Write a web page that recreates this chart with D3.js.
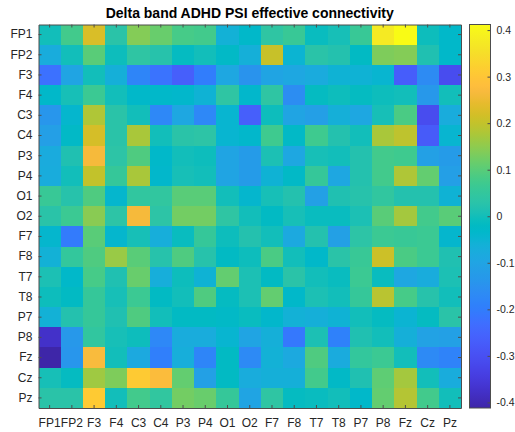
<!DOCTYPE html>
<html>
<head>
<meta charset="utf-8">
<script src="https://cdn.jsdelivr.net/npm/d3@7"></script>
<style>
  html, body { margin: 0; padding: 0; background: #ffffff; }
  svg { display: block; font-family: "Liberation Sans", Arial, Helvetica, sans-serif; }
</style>
</head>
<body>
<svg id="chart" width="515" height="432"></svg>
<script>
// EEG channels, in matrix order (rows = source, columns = target)
const channels = ["FP1","FP2","F3","F4","C3","C4","P3","P4","O1","O2",
                  "F7","F8","T7","T8","P7","P8","Fz","Cz","Pz"];

// Phase slope index matrix (antisymmetric, zero diagonal), one row per channel
const psiValues = [
  [ 0.000, 0.075, 0.225, 0.030, 0.140, 0.115, 0.080, 0.075,-0.060,-0.030, 0.040, 0.060,-0.010, 0.005, 0.060, 0.375, 0.412,-0.005,-0.030],
  [-0.075, 0.000, 0.100,-0.005, 0.040, 0.025,-0.015, 0.000,-0.025,-0.065, 0.205,-0.050, 0.030, 0.020,-0.020, 0.135, 0.140, 0.015,-0.030],
  [-0.225,-0.100, 0.000,-0.065,-0.180,-0.220,-0.265,-0.200,-0.090,-0.145,-0.100,-0.090,-0.080,-0.055,-0.055,-0.045,-0.270,-0.165,-0.310],
  [-0.030, 0.005, 0.065, 0.000,-0.030,-0.030,-0.035,-0.055, 0.040,-0.035, 0.040,-0.160,-0.015,-0.005,-0.015,-0.005, 0.000,-0.135, 0.000],
  [-0.140,-0.040, 0.180, 0.030, 0.000,-0.175,-0.090,-0.175,-0.045,-0.265,-0.005,-0.100,-0.115,-0.065,-0.090, 0.005, 0.085,-0.310,-0.075],
  [-0.115,-0.025, 0.220, 0.030, 0.175, 0.000, 0.030, 0.035,-0.045,-0.035, 0.070,-0.025, 0.070, 0.020, 0.000, 0.175, 0.195,-0.275,-0.045],
  [-0.080, 0.015, 0.265, 0.035, 0.090,-0.030, 0.000,-0.005,-0.100,-0.125, 0.010,-0.090, 0.005, 0.000, 0.020, 0.075, 0.070,-0.110,-0.125],
  [-0.075, 0.000, 0.200, 0.055, 0.175,-0.035, 0.005, 0.000,-0.100,-0.125,-0.055,-0.025, 0.055,-0.090, 0.020, 0.075, 0.180, 0.110,-0.115],
  [ 0.060, 0.025, 0.090,-0.040, 0.045, 0.045, 0.100, 0.100, 0.000,-0.040, 0.005, 0.020,-0.110, 0.015, 0.025, 0.045, 0.020, 0.020,-0.055],
  [ 0.030, 0.065, 0.145, 0.035, 0.265, 0.035, 0.125, 0.125, 0.040, 0.000,-0.020, 0.005,-0.010,-0.010, 0.010, 0.100, 0.170, 0.075, 0.100],
  [-0.040,-0.205, 0.100,-0.040, 0.005,-0.070,-0.010, 0.055,-0.005, 0.020, 0.000,-0.085, 0.020,-0.110, 0.035, 0.065, 0.060, 0.065,-0.040],
  [-0.060, 0.050, 0.090, 0.160, 0.100, 0.025, 0.090, 0.025,-0.020,-0.005, 0.085, 0.000,-0.030, 0.030, 0.060, 0.210, 0.085, 0.065, 0.015],
  [ 0.010,-0.030, 0.080, 0.015, 0.115,-0.070,-0.005,-0.055, 0.110, 0.010,-0.020, 0.030, 0.000,-0.010, 0.065,-0.010,-0.090,-0.075, 0.010],
  [-0.005,-0.020, 0.055, 0.005, 0.065,-0.020, 0.000, 0.090,-0.015, 0.010, 0.110,-0.030, 0.010, 0.000, 0.055, 0.190, 0.080, 0.025, 0.000],
  [-0.060, 0.020, 0.055, 0.015, 0.090, 0.000,-0.020,-0.020,-0.025,-0.010,-0.035,-0.060,-0.065,-0.055, 0.000,-0.015,-0.050,-0.015, 0.030],
  [-0.375,-0.135, 0.045, 0.005,-0.005,-0.175,-0.075,-0.075,-0.045,-0.100,-0.065,-0.210, 0.010,-0.190, 0.015, 0.000,-0.065,-0.105,-0.110],
  [-0.412,-0.140, 0.270, 0.000,-0.085,-0.195,-0.070,-0.180,-0.020,-0.170,-0.060,-0.085, 0.090,-0.080, 0.050, 0.065, 0.000,-0.170,-0.185],
  [ 0.005,-0.015, 0.165, 0.135, 0.310, 0.275, 0.110,-0.110,-0.020,-0.075,-0.065,-0.065, 0.075,-0.025, 0.015, 0.105, 0.170, 0.000,-0.075],
  [ 0.030, 0.030, 0.310, 0.000, 0.075, 0.045, 0.125, 0.115, 0.055,-0.100, 0.040,-0.015,-0.010, 0.000,-0.030, 0.110, 0.185, 0.075, 0.000]
];

// Colour bar tick values
const colorbarTicks = [-0.4, -0.3, -0.2, -0.1, 0, 0.1, 0.2, 0.3, 0.4];

const titleText = "Delta band ADHD PSI effective connectivity";

// Parula colour map (64 entries)
const parula = [
  [0.2422,0.1504,0.6603],[0.2504,0.1650,0.7076],[0.2578,0.1818,0.7511],[0.2647,0.1978,0.7952],
  [0.2706,0.2147,0.8364],[0.2751,0.2342,0.8710],[0.2783,0.2559,0.8991],[0.2803,0.2782,0.9221],
  [0.2813,0.3006,0.9414],[0.2810,0.3228,0.9579],[0.2795,0.3447,0.9717],[0.2760,0.3667,0.9829],
  [0.2699,0.3892,0.9906],[0.2602,0.4123,0.9952],[0.2440,0.4358,0.9988],[0.2206,0.4603,0.9973],
  [0.1963,0.4847,0.9892],[0.1834,0.5074,0.9798],[0.1786,0.5289,0.9682],[0.1764,0.5499,0.9520],
  [0.1687,0.5703,0.9359],[0.1540,0.5902,0.9218],[0.1460,0.6091,0.9079],[0.1380,0.6276,0.8973],
  [0.1248,0.6459,0.8883],[0.1113,0.6635,0.8763],[0.0952,0.6798,0.8598],[0.0689,0.6948,0.8394],
  [0.0297,0.7082,0.8163],[0.0036,0.7203,0.7917],[0.0067,0.7312,0.7660],[0.0433,0.7411,0.7394],
  [0.0964,0.7500,0.7120],[0.1408,0.7584,0.6842],[0.1717,0.7670,0.6554],[0.1938,0.7758,0.6251],
  [0.2161,0.7843,0.5923],[0.2470,0.7918,0.5567],[0.2906,0.7973,0.5188],[0.3406,0.8008,0.4789],
  [0.3909,0.8029,0.4354],[0.4456,0.8024,0.3909],[0.5044,0.7993,0.3480],[0.5616,0.7942,0.3045],
  [0.6174,0.7876,0.2612],[0.6720,0.7793,0.2227],[0.7242,0.7698,0.1910],[0.7738,0.7598,0.1646],
  [0.8203,0.7498,0.1535],[0.8634,0.7406,0.1596],[0.9035,0.7330,0.1774],[0.9393,0.7288,0.2100],
  [0.9728,0.7298,0.2394],[0.9956,0.7434,0.2371],[0.9970,0.7659,0.2199],[0.9952,0.7893,0.2028],
  [0.9892,0.8136,0.1885],[0.9786,0.8386,0.1766],[0.9676,0.8639,0.1643],[0.9610,0.8890,0.1537],
  [0.9597,0.9135,0.1423],[0.9628,0.9373,0.1265],[0.9691,0.9606,0.1064],[0.9769,0.9839,0.0805]
].map(c => d3.rgb(c[0] * 255, c[1] * 255, c[2] * 255).formatHex());

const svg = d3.select("#chart");
const axisColor = "#4d4d4d";
const textColor = "#262626";
const fontFamily = "'Liberation Sans', Arial, Helvetica, sans-serif";

const plot = { left: 38.5, right: 461, top: 24.5, bottom: 408 };
const bar = { left: 469.5, right: 490.5 };

const cmin = d3.min(psiValues.flat());
const cmax = d3.max(psiValues.flat());
const color = d3.scaleSequential(d3.piecewise(d3.interpolateRgb, parula)).domain([cmin, cmax]);

const x = d3.scaleBand().domain(channels).range([plot.left, plot.right]).padding(0);
const y = d3.scaleBand().domain(channels).range([plot.top, plot.bottom]).padding(0);

// Cells
const cells = [];
psiValues.forEach((row, i) => row.forEach((v, j) => cells.push({ r: channels[i], c: channels[j], v })));

svg.append("g")
  .selectAll("rect")
  .data(cells)
  .join("rect")
  .attr("x", d => x(d.c))
  .attr("y", d => y(d.r))
  .attr("width", x.bandwidth() + 0.4)
  .attr("height", y.bandwidth() + 0.4)
  .attr("fill", d => color(d.v))
  .attr("shape-rendering", "crispEdges");

// Axes with inward ticks on all four sides
function styleAxis(size) {
  return g => {
    g.select(".domain").attr("stroke", axisColor);
    g.selectAll(".tick line").attr("stroke", axisColor);
    g.selectAll("text").attr("fill", textColor).style("font-size", size + "px")
      .style("font-family", fontFamily);
  };
}

svg.append("g")
  .attr("transform", `translate(0,${plot.bottom})`)
  .call(d3.axisBottom(x).tickSizeInner(-3).tickSizeOuter(0).tickPadding(10.5))
  .call(styleAxis(12));

svg.append("g")
  .attr("transform", `translate(${plot.left},0)`)
  .call(d3.axisLeft(y).tickSizeInner(-3).tickSizeOuter(0).tickPadding(6))
  .call(styleAxis(12));

svg.append("g")
  .attr("transform", `translate(0,${plot.top})`)
  .call(d3.axisTop(x).tickSizeInner(-3).tickSizeOuter(0).tickFormat(""))
  .call(styleAxis(12));

svg.append("g")
  .attr("transform", `translate(${plot.right},0)`)
  .call(d3.axisRight(y).tickSizeInner(-3).tickSizeOuter(0).tickFormat(""))
  .call(styleAxis(12));

// Title
svg.append("text")
  .attr("x", (plot.left + plot.right) / 2)
  .attr("y", 17.5)
  .attr("text-anchor", "middle")
  .attr("fill", "#000")
  .style("font-size", "14px")
  .style("font-weight", "bold")
  .style("font-family", fontFamily)
  .text(titleText);

// Colour bar
const cbScale = d3.scaleLinear().domain([cmin, cmax]).range([plot.bottom, plot.top]);
const defs = svg.append("defs");
const grad = defs.append("linearGradient")
  .attr("id", "parulaGrad")
  .attr("x1", 0).attr("y1", 1).attr("x2", 0).attr("y2", 0);
grad.selectAll("stop")
  .data(parula)
  .join("stop")
  .attr("offset", (d, i) => i / (parula.length - 1))
  .attr("stop-color", d => d);

svg.append("rect")
  .attr("x", bar.left)
  .attr("y", plot.top)
  .attr("width", bar.right - bar.left)
  .attr("height", plot.bottom - plot.top)
  .attr("fill", "url(#parulaGrad)")
  .attr("stroke", axisColor)
  .attr("stroke-width", 1);

const cbAxis = svg.append("g")
  .attr("transform", `translate(${bar.right},0)`)
  .call(d3.axisRight(cbScale).tickValues(colorbarTicks).tickSizeInner(-3).tickSizeOuter(0)
    .tickPadding(6).tickFormat(d => d === 0 ? "0" : d.toFixed(1)))
  .call(styleAxis(10.5));
cbAxis.select(".domain").remove();
</script>
</body>
</html>
